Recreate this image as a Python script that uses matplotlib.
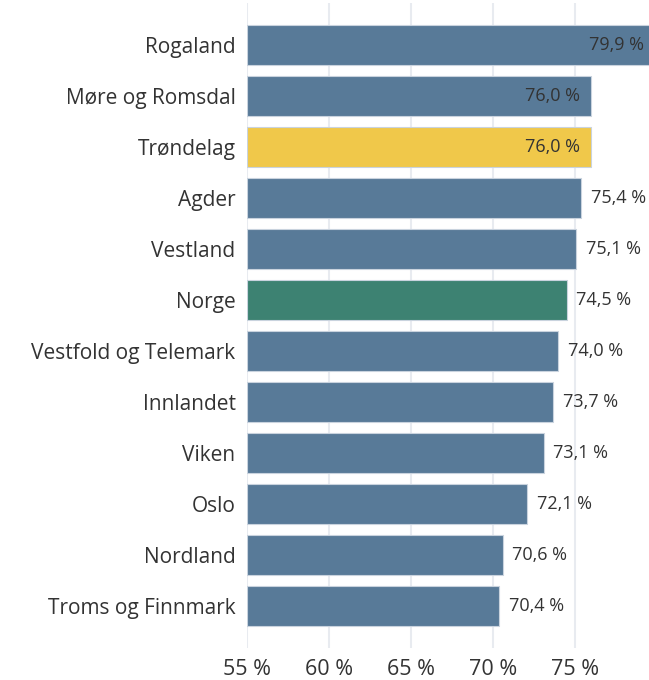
import matplotlib.pyplot as plt
import matplotlib

matplotlib.rc('font', family=['Open Sans', 'DejaVu Sans'])

fylker = ["Rogaland", "Møre og Romsdal", "Trøndelag", "Agder", "Vestland", "Norge",
          "Vestfold og Telemark", "Innlandet", "Viken", "Oslo", "Nordland",
          "Troms og Finnmark"]
andel = [79.9, 76.0, 76.0, 75.4, 75.1, 74.5, 74.0, 73.7, 73.1, 72.1, 70.6, 70.4]
ticks = [55, 60, 65, 70, 75]

blue = "#587a98"
colors = []
for f in fylker:
    if f == "Trøndelag":
        colors.append("#f0c84a")
    elif f == "Norge":
        colors.append("#3d8272")
    else:
        colors.append(blue)

xmin, xmax = 55, 79.53
txt = "#333333"

fig = plt.figure(figsize=(6.49, 6.80), dpi=100)
ax = fig.add_axes([246.7 / 649, 32 / 680, 1 - 246.7 / 649, 645 / 680])

y = list(range(len(fylker)))
ax.barh(y, [v - xmin for v in andel], left=xmin, height=0.78, color=colors,
        edgecolor="#c9d3de", linewidth=0.8, zorder=2)

# labels go inside the bar when there is no room to the right
for i, v in enumerate(andel):
    lab = f"{v:.1f} %".replace(".", ",")
    if v + 3.8 > xmax:
        ax.text(v - 0.65, i, lab, ha="right", va="center",
                fontsize=13, color=txt, zorder=3)
    else:
        ax.text(v + 0.6, i, lab, ha="left", va="center", fontsize=13,
                color=txt, zorder=3)

ax.set_xlim(xmin, xmax)
ax.set_ylim(len(fylker) - 1 + 0.82, -0.82)
ax.set_xticks(ticks)
ax.set_xticklabels([f"{t} %" for t in ticks], fontsize=15.5, color=txt)
ax.set_yticks(y)
ax.set_yticklabels(fylker, fontsize=15, color=txt)
ax.tick_params(axis="y", length=0, pad=8)
ax.tick_params(axis="x", length=0, pad=8)
ax.grid(axis="x", color="#e8ebf0", linewidth=1.5, zorder=0)
for s in ax.spines.values():
    s.set_visible(False)

plt.savefig("out.png", dpi=100)
